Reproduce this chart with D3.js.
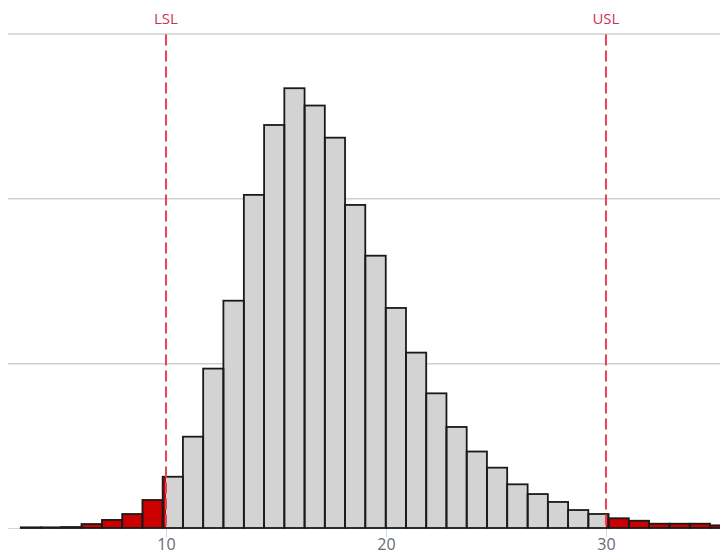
<!DOCTYPE html>
<html>
<head>
<meta charset="utf-8">
<style>
body {
    margin: 0;
    background: #fff;
}
svg {
    display: block;
    overflow: hidden;
}
text {
    font-family: "Open Sans", "Noto Sans", sans-serif;
}
</style>
</head>
<body>
<script src="https://d3js.org/d3.v7.min.js"></script>
<script>
// bin edges (measurement units)
var binEdges = [3.40, 4.32, 5.24, 6.16, 7.09, 8.01, 8.93, 9.85, 10.77, 11.69,
    12.61, 13.54, 14.46, 15.38, 16.30, 17.22, 18.14, 19.06, 19.99, 20.91,
    21.83, 22.75, 23.67, 24.59, 25.51, 26.44, 27.36, 28.28, 29.20, 30.12,
    31.04, 31.96, 32.89, 33.81, 34.73, 35.65];
// counts per bin
var binCounts = [4, 4, 6, 24, 49, 85, 170, 311, 554, 967,
    1379, 2021, 2445, 2668, 2563, 2368, 1960, 1652, 1335, 1064,
    817, 613, 464, 366, 265, 206, 158, 109, 85, 59,
    44, 26, 26, 26, 16];
var xTicks = [10, 20, 30];
var gridValues = [1000, 2000, 3000];
var specLimits = [{name: "LSL", value: 10}, {name: "USL", value: 30}];

var width = 720, height = 555;
var margin = {top: 33.5, bottom: 27, left: 8};

var x = d3.scaleLinear()
    .domain([2.818, 35.64])
    .range([margin.left, 730]);
var y = d3.scaleLinear()
    .domain([0, 3000])
    .range([height - margin.bottom, margin.top]);

var svg = d3.select("body").append("svg")
    .attr("width", width)
    .attr("height", height);

// grid
svg.append("g").selectAll("line")
    .data(gridValues)
    .enter().append("line")
    .attr("x1", margin.left)
    .attr("x2", width)
    .attr("y1", function(d) { return y(d) + 0.5; })
    .attr("y2", function(d) { return y(d) + 0.5; })
    .attr("stroke", "#cfcfcf")
    .attr("stroke-width", 1.5);

// x axis
var xAxis = d3.axisBottom(x)
    .tickValues(xTicks)
    .tickSize(9)
    .tickPadding(2)
    .tickFormat(d3.format("d"));
var gx = svg.append("g")
    .attr("transform", "translate(0," + y(0) + ")")
    .call(xAxis);
gx.select(".domain")
    .attr("stroke", "#ccd6eb")
    .attr("d", "M" + margin.left + ",0.5H" + width);
gx.selectAll(".tick line").attr("stroke", "#ccd6eb");
gx.selectAll(".tick text")
    .attr("fill", "#666a72")
    .style("font-size", "16px");

var bins = binCounts.map(function(c, i) {
    return {x0: binEdges[i], x1: binEdges[i + 1], count: c};
});

var lsl = specLimits[0].value, usl = specLimits[1].value;

// split each bin into in-spec / out-of-spec pieces
var pieces = [];
bins.forEach(function(b) {
    var cuts = [b.x0];
    if (lsl > b.x0 && lsl < b.x1) cuts.push(lsl);
    if (usl > b.x0 && usl < b.x1) cuts.push(usl);
    cuts.push(b.x1);
    for (var k = 0; k < cuts.length - 1; k++) {
        var mid = (cuts[k] + cuts[k + 1]) / 2;
        pieces.push({x0: cuts[k], x1: cuts[k + 1], count: b.count,
            out: mid < lsl || mid > usl});
    }
});

svg.append("g").selectAll("rect")
    .data(pieces)
    .enter().append("rect")
    .attr("x", function(d) { return x(d.x0); })
    .attr("y", function(d) { return y(d.count); })
    .attr("width", function(d) { return x(d.x1) - x(d.x0); })
    .attr("height", function(d) { return y(0) - y(d.count); })
    .attr("fill", function(d) { return d.out ? "#cc0000" : "#d3d3d3"; });

svg.append("g").selectAll("rect")
    .data(bins)
    .enter().append("rect")
    .attr("x", function(d) { return x(d.x0); })
    .attr("y", function(d) { return y(d.count); })
    .attr("width", function(d) { return x(d.x1) - x(d.x0); })
    .attr("height", function(d) { return y(0) - y(d.count); })
    .attr("fill", "none")
    .attr("stroke", "#1a1a1a")
    .attr("stroke-width", 1.8);

// spec limit lines
var limits = svg.append("g").selectAll("g")
    .data(specLimits)
    .enter().append("g");
limits.append("line")
    .attr("x1", function(d) { return x(d.value); })
    .attr("x2", function(d) { return x(d.value); })
    .attr("y1", y(3000) + 1)
    .attr("y2", y(0))
    .attr("stroke", "#e0435a")
    .attr("stroke-width", 2)
    .attr("stroke-dasharray", "11,5");
limits.append("text")
    .attr("x", function(d) { return x(d.value); })
    .attr("y", 24)
    .attr("text-anchor", "middle")
    .attr("fill", "#cc3355")
    .style("font-size", "15px")
    .text(function(d) { return d.name; });
</script>
</body>
</html>
